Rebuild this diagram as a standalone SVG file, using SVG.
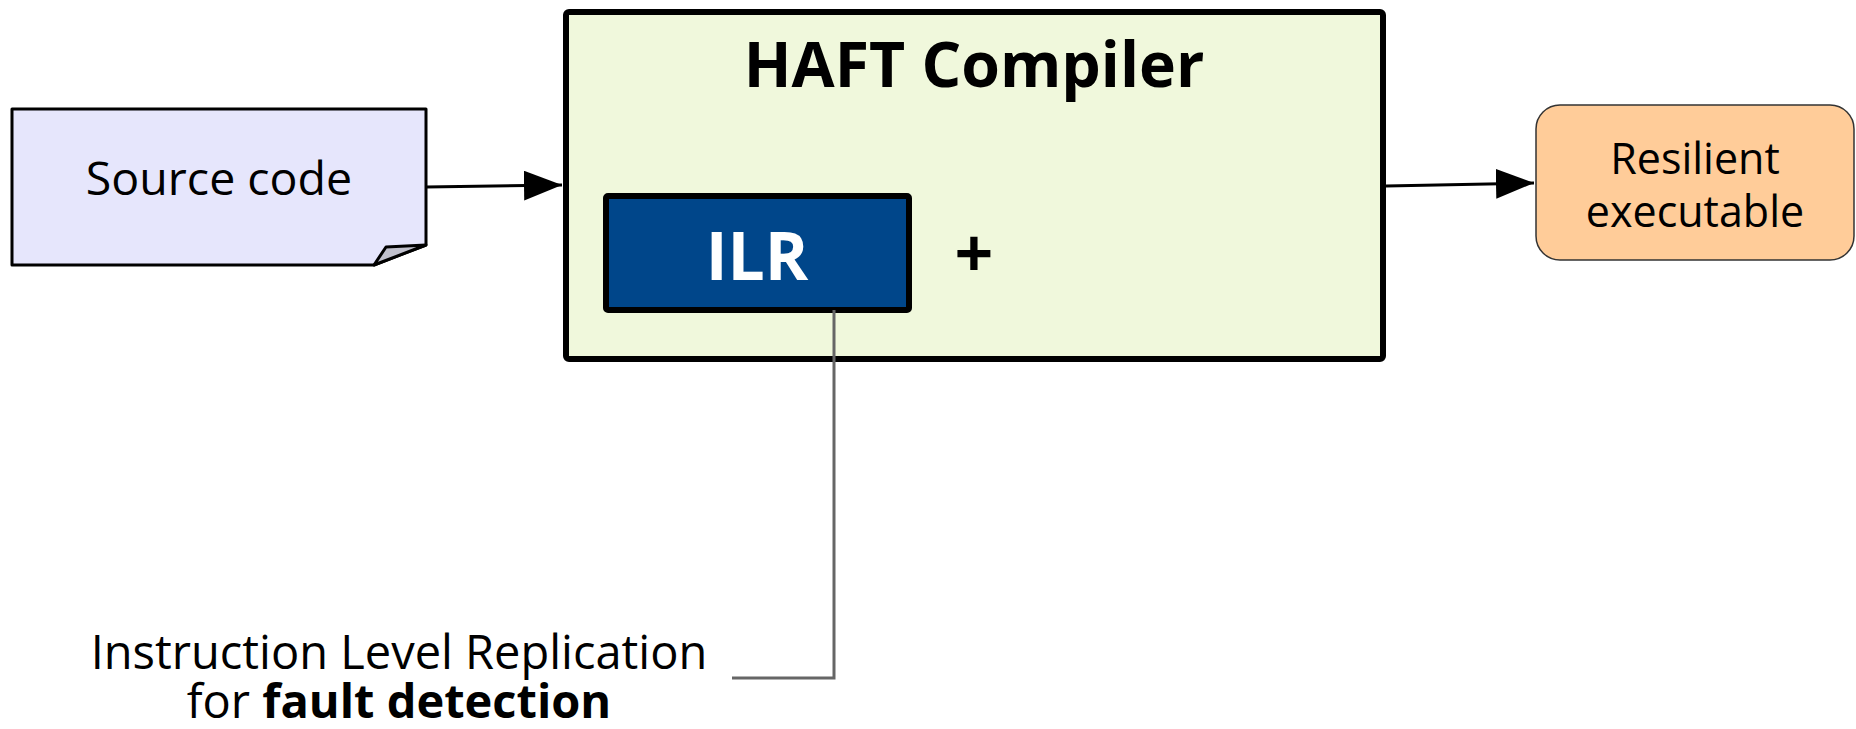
<svg xmlns="http://www.w3.org/2000/svg" width="1856" height="729" viewBox="0 0 1856 729">
<style>
.t{font-family:"Open Sans","Noto Sans","DejaVu Sans",sans-serif;fill:#000;text-anchor:middle}
.b{font-weight:bold}
.conn{stroke:#000;stroke-width:3;fill:none}
</style>
<defs>
<marker id="ah" markerUnits="userSpaceOnUse" markerWidth="40" markerHeight="30" refX="38" refY="15" orient="auto">
<path d="M0,0 L38,15 L0,30 Z" fill="#000"/>
</marker>
</defs>
<rect width="1856" height="729" fill="#fff"/>
<g id="source">
<path d="M12,109 H426 V245 L374,265 H12 Z" fill="#e6e6fc" stroke="#000" stroke-width="3" stroke-linejoin="round"/>
<path d="M374,265 L386,247 L426,245 Z" fill="#c0c0cc" stroke="#000" stroke-width="3" stroke-linejoin="round"/>
<text class="t" x="219" y="195" font-size="46.5">Source code</text>
</g>
<g id="compiler">
<rect x="566" y="12" width="817" height="347" rx="3" fill="#f0f8dc" stroke="#000" stroke-width="6"/>
<text class="t b" x="974" y="87" font-size="62.5">HAFT Compiler</text>
<text class="t b" x="974" y="278" font-size="68">+</text>
</g>
<g id="ilr">
<rect x="606" y="196" width="303" height="114" rx="2" fill="#00468a" stroke="#000" stroke-width="6"/>
<text class="t b" x="757" y="280" font-size="66" style="fill:#fff">ILR</text>
</g>
<g id="result">
<rect x="1536" y="105" width="318" height="155" rx="24" fill="#ffcc99" stroke="#333" stroke-width="1.5"/>
<text class="t" x="1695" y="174" font-size="43">Resilient</text>
<text class="t" x="1695" y="227" font-size="43">executable</text>
</g>
<g id="note">
<text class="t" x="399" y="669" font-size="47">Instruction Level Replication</text>
<text class="t" x="399" y="718" font-size="47">for <tspan class="b">fault detection</tspan></text>
</g>
<g id="connectors">
<path class="conn" d="M426,187 L562,185" marker-end="url(#ah)"/>
<path class="conn" d="M1386,186 L1534,183" marker-end="url(#ah)"/>
<path d="M834,310 V678 H732" fill="none" stroke="#666" stroke-width="3"/>
</g>
</svg>
